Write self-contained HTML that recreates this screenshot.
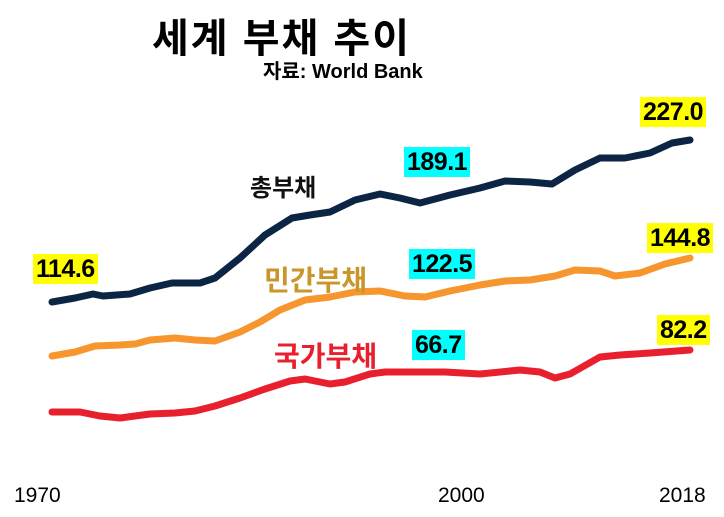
<!DOCTYPE html>
<html><head><meta charset="utf-8"><style>
body{margin:0;width:724px;height:517px;background:#fff;overflow:hidden;position:relative;font-family:"Liberation Sans","Noto Sans CJK KR",sans-serif}
.t{position:absolute;white-space:nowrap}
.n{position:absolute;font-weight:bold;font-size:25px;line-height:30px;padding:0 3px;color:#000;letter-spacing:-0.5px}
.y{background:#ffff00}.c{background:#00ffff}
</style></head><body>
<svg width="724" height="517" style="position:absolute;left:0;top:0">
<g fill="none" stroke-width="7" stroke-linecap="round" stroke-linejoin="round">
<polyline stroke="#0d2544" points="52,302 75,298 93,294 103,296 130,294 150,288 172,283 200,283 215,278 240,258 265,235 292,218 310,215 330,212 355,200 380,194 400,198 420,203 450,195 480,188 505,181 530,182 552,184 575,170 600,158 625,158 650,153 672,143 690,140"/>
<polyline stroke="#f7962e" points="52,356 75,352 95,346 120,345 135,344 150,340 175,338 195,340 215,341 240,332 260,322 280,310 305,300 330,297 355,292 380,291 405,296 425,297 450,291 480,285 505,281 530,280 555,276 575,270 600,271 615,276 640,273 665,264 690,258"/>
<polyline stroke="#e8202e" points="52,412 80,412 100,416 120,418 150,414 175,413 195,411 215,406 240,398 265,389 290,381 305,379 330,384 345,382 370,374 385,372 420,372 445,372 480,374 520,370 540,372 555,378 570,374 600,357 620,355 650,353 690,350"/>
</g></svg>
<div class="t" style="left:152px;top:6px;font-size:40px;font-weight:bold;letter-spacing:2px">세계 부채 추이</div>
<div class="t" style="left:263px;top:55px;font-size:20px;font-weight:bold">자료: World Bank</div>
<div class="t" style="left:250px;top:168px;font-size:24px;font-weight:bold;color:#111">총부채</div>
<div class="t" style="left:264px;top:259px;font-size:28px;font-weight:bold;color:#c8962a">민간부채</div>
<div class="t" style="left:274px;top:335px;font-size:28px;font-weight:bold;color:#e8202e">국가부채</div>
<div class="n y" style="left:640px;top:97px">227.0</div>
<div class="n c" style="left:404px;top:147px">189.1</div>
<div class="n y" style="left:33px;top:254px">114.6</div>
<div class="n c" style="left:409px;top:249px">122.5</div>
<div class="n y" style="left:647px;top:223px">144.8</div>
<div class="n c" style="left:412px;top:330px">66.7</div>
<div class="n y" style="left:657px;top:315px">82.2</div>
<div class="t" style="left:14px;top:484px;font-size:21px">1970</div>
<div class="t" style="left:438px;top:484px;font-size:21px">2000</div>
<div class="t" style="left:659px;top:484px;font-size:21px">2018</div>
</body></html>
